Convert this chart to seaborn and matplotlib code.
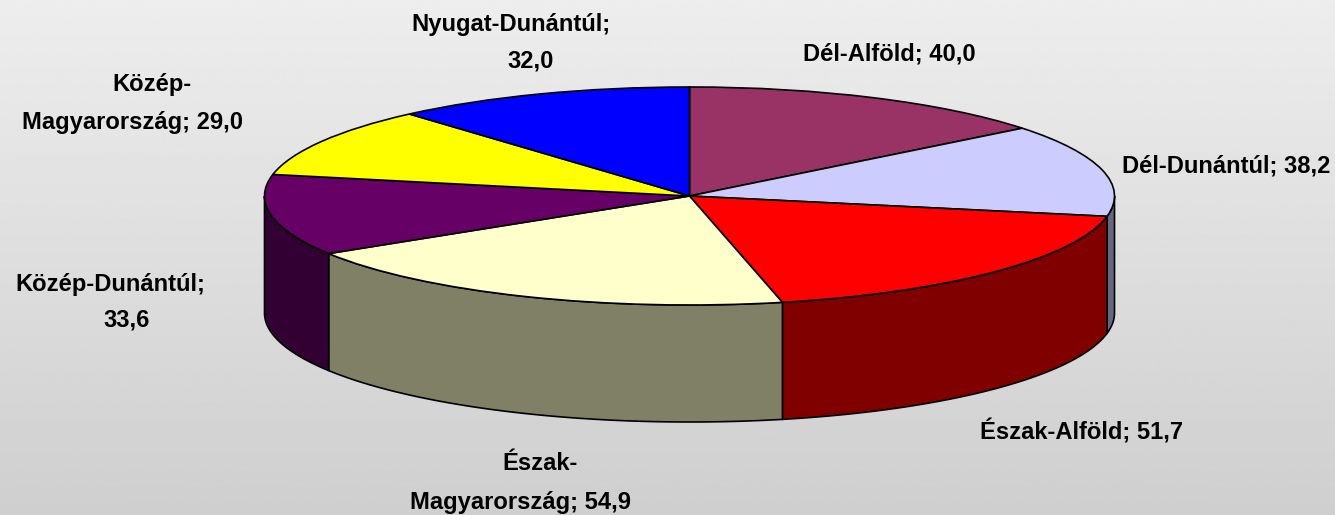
import matplotlib
matplotlib.use("Agg")
import matplotlib.pyplot as plt
import numpy as np
import seaborn as sns

# adatok
regiok = ["Dél-Alföld", "Dél-Dunántúl", "Észak-Alföld", "Észak-Magyarország",
          "Közép-Dunántúl", "Közép-Magyarország", "Nyugat-Dunántúl"]
ertekek = [40.0, 38.2, 51.7, 54.9, 33.6, 29.0, 32.0]
szinek = ["#993366", "#CCCCFF", "#FF0000", "#FFFFCC", "#660066", "#FFFF00", "#0000FF"]

# feliratok soronként: szöveg, közép x, közép y (pixel)
feliratok = [
    ("Nyugat-Dunántúl;", 511, 25), ("32,0", 531, 61),
    ("Dél-Alföld; 40,0", 889, 54),
    ("Dél-Dunántúl; 38,2", 1226, 166),
    ("Észak-Alföld; 51,7", 1082, 432),
    ("Észak-", 540, 464), ("Magyarország; 54,9", 520, 503),
    ("Közép-", 152, 85), ("Magyarország; 29,0", 132, 122),
    ("Közép-Dunántúl;", 110, 284), ("33,6", 127, 320),
]

W, H = 1335, 515
CX, CY, RX, RY, MELY = 689.5, 196, 425, 109, 117

sns.set_theme(style="white")
plt.rcParams["font.family"] = ["Liberation Sans", "DejaVu Sans"]
paletta = sns.color_palette(szinek)

fig = plt.figure(figsize=(W / 100, H / 100), dpi=100)

# szürke háttér színátmenet
hatter = fig.add_axes([0, 0, 1, 1], zorder=0)
hatter.imshow(np.linspace(0.93, 0.81, 256).reshape(-1, 1), cmap="gray", vmin=0, vmax=1,
              aspect="auto", interpolation="bilinear")
hatter.axis("off")

ax = fig.add_axes([0, 0, 1, 1], zorder=1)
ax.patch.set_alpha(0)

# a pie 1 sugarú kör, az ellipszis a tengelyek skálájából jön
ax.pie(ertekek, colors=paletta, startangle=90, counterclock=False,
       wedgeprops={"edgecolor": "black", "linewidth": 1.2, "zorder": 3})
ax.set_aspect("auto")
ax.set_xlim(-CX / RX, (W - CX) / RX)
ax.set_ylim((CY - H) / RY, CY / RY)

# oldalfalak: csak ami az elülső félkörre esik
mely = MELY / RY
hatarok = np.cumsum([0] + ertekek) / sum(ertekek) * 2 * np.pi
for i in range(len(ertekek)):
    a = max(hatarok[i], np.pi / 2)
    b = min(hatarok[i + 1], 3 * np.pi / 2)
    if a >= b:
        continue
    t = np.linspace(a, b, 120)
    x = np.sin(t)
    y = np.cos(t)
    ax.fill(np.r_[x, x[::-1]], np.r_[y, y[::-1] - mely],
            facecolor=np.array(paletta[i]) * 0.5, edgecolor="black", linewidth=1.2, zorder=2)

for szoveg, px, py in feliratok:
    fig.text(px / W, 1 - py / H, szoveg, ha="center", va="center",
             fontsize=17.1, fontweight="bold", color="black", zorder=5)

fig.savefig("out.png", dpi=100)
